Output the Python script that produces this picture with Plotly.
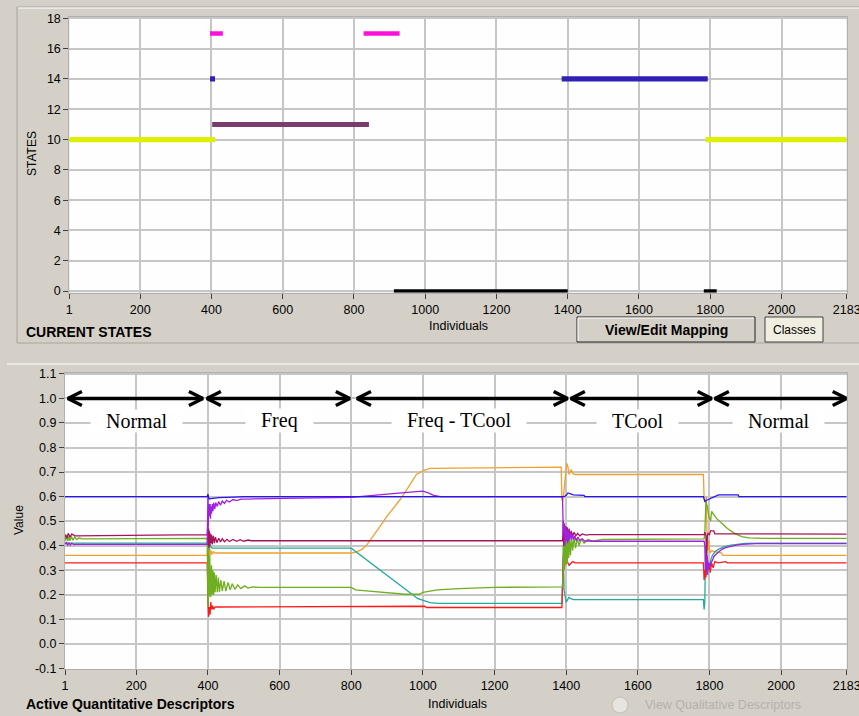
import plotly.graph_objects as go

W, H = 859, 716

# ---------------- data: top chart (current states) ----------------
x_ticks = [1, 200, 400, 600, 800, 1000, 1200, 1400, 1600, 1800, 2000, 2183]
state_ticks = [0, 2, 4, 6, 8, 10, 12, 14, 16, 18]

yellow_x = [1, 410, None, 1787, 2183]
yellow_y = [10, 10, None, 10, 10]
magenta_x = [396, 432, None, 827, 928]
magenta_y = [17, 17, None, 17, 17]
plum_x = [402, 842]
plum_y = [11, 11]
indigo_x = [396, 410, None, 1383, 1793]
indigo_y = [14, 14, None, 14, 14]
black_x = [912, 1400, None, 1782, 1818]
black_y = [0, 0, None, 0, 0]

# ---------------- data: bottom chart (descriptor values) ----------------
value_ticks = [-0.1, 0.0, 0.1, 0.2, 0.3, 0.4, 0.5, 0.6, 0.7, 0.8, 0.9, 1.0, 1.1]

phase_names = ["Normal", "Freq", "Freq - TCool", "TCool", "Normal"]
phase_bounds = [1, 400, 800, 1400, 1800, 2183]
arrow_start = [9, 397, 816, 1413, 1815]
arrow_end = [386, 796, 1404, 1806, 2183]
arrow_level = 1.0
label_level = 0.91

blue_x = [1, 398, 400, 403, 408, 430, 470, 500, 1395, 1400, 1405, 1420, 1450, 1452,
          1783, 1787, 1792, 1800, 1815, 1825, 1880, 1882, 2183]
blue_y = [0.60, 0.60, 0.61, 0.59, 0.592, 0.596, 0.598, 0.60, 0.60, 0.605, 0.615, 0.607, 0.605, 0.60,
          0.60, 0.58, 0.585, 0.59, 0.60, 0.607, 0.607, 0.60, 0.60]

purple_x = [1, 5, 8, 12, 16, 20, 25, 30, 398,
            400, 401, 402, 403, 404, 405, 406, 407, 408, 410, 412, 414, 416, 419, 422, 426, 430,
            435, 440, 446, 452, 460, 470, 480, 492, 505, 560, 700, 800,
            830, 860, 900, 940, 970, 1000, 1015, 1030, 1050, 1388,
            1390, 1392, 1394, 1396, 1398, 1400, 1402, 1404, 1406, 1408, 1411, 1414, 1417, 1420,
            1424, 1428, 1433, 1438, 1445, 1452, 1460, 1470, 1785,
            1787, 1789, 1791, 1793, 1795, 1797, 1799, 1801, 1804, 1808, 1812, 1818, 1825, 1835,
            1845, 1860, 1875, 1890, 1905, 1930, 2183]
purple_y = [0.405, 0.415, 0.40, 0.412, 0.402, 0.41, 0.404, 0.405, 0.405,
            0.60, 0.48, 0.57, 0.50, 0.56, 0.52, 0.57, 0.51, 0.56, 0.53, 0.57, 0.54, 0.575, 0.55, 0.575, 0.56, 0.58,
            0.565, 0.582, 0.572, 0.585, 0.578, 0.588, 0.584, 0.59, 0.59, 0.592, 0.595, 0.597,
            0.60, 0.605, 0.61, 0.615, 0.62, 0.622, 0.615, 0.605, 0.60, 0.60,
            0.58, 0.45, 0.49, 0.40, 0.48, 0.42, 0.47, 0.41, 0.46, 0.42, 0.455, 0.425, 0.45, 0.425,
            0.44, 0.42, 0.435, 0.42, 0.428, 0.418, 0.42, 0.418, 0.418,
            0.40, 0.30, 0.36, 0.28, 0.34, 0.30, 0.33, 0.31, 0.33, 0.34, 0.355, 0.365, 0.375, 0.385,
            0.392, 0.398, 0.402, 0.405, 0.407, 0.408, 0.408]

maroon_x = [1, 6, 10, 15, 20, 28, 398,
            400, 401, 402, 403, 404, 405, 406, 408, 410, 412, 415, 418, 421, 425, 430, 435, 440,
            446, 453, 460, 470, 480, 490, 500, 512, 520, 1390,
            1392, 1393, 1395, 1397, 1399, 1401, 1403, 1405, 1408, 1411, 1414, 1418, 1422, 1427,
            1432, 1438, 1445, 1455, 1465, 1785,
            1787, 1790, 1792, 1794, 1796, 1800, 1803, 1812, 1815, 2183]
maroon_y = [0.445, 0.43, 0.45, 0.435, 0.448, 0.44, 0.445,
            0.50, 0.40, 0.47, 0.39, 0.46, 0.40, 0.45, 0.41, 0.445, 0.405, 0.44, 0.41, 0.435, 0.412, 0.43, 0.415, 0.428,
            0.416, 0.426, 0.417, 0.425, 0.418, 0.424, 0.418, 0.423, 0.42, 0.42,
            0.50, 0.40, 0.49, 0.42, 0.48, 0.43, 0.475, 0.43, 0.47, 0.435, 0.46, 0.437, 0.455, 0.44,
            0.45, 0.44, 0.448, 0.443, 0.445, 0.445,
            0.455, 0.44, 0.34, 0.44, 0.45, 0.445, 0.46, 0.46, 0.448, 0.447]

green_x = [1, 3, 6, 9, 12, 15, 19, 23, 28, 34, 40, 48, 398,
           400, 401, 402, 403, 404, 405, 406, 407, 408, 410, 412, 414, 416, 418, 420, 423, 426,
           429, 432, 436, 440, 445, 450, 456, 462, 468, 475, 483, 492, 502, 512, 525, 540, 800,
           812, 850, 900, 950, 990, 1000, 1040, 1100, 1200, 1390,
           1392, 1393, 1395, 1397, 1399, 1401, 1403, 1405, 1407, 1409, 1412, 1415, 1418, 1422,
           1426, 1431, 1436, 1442, 1450, 1460, 1475, 1500, 1785,
           1787, 1790, 1794, 1798, 1803, 1806, 1810, 1820, 1835, 1850, 1870, 1890, 1910, 1950, 2183]
green_y = [0.44, 0.42, 0.445, 0.418, 0.44, 0.42, 0.437, 0.422, 0.435, 0.425, 0.432, 0.428, 0.43,
           0.15, 0.40, 0.19, 0.38, 0.20, 0.36, 0.20, 0.34, 0.19, 0.32, 0.20, 0.30, 0.20, 0.29, 0.21, 0.28, 0.21,
           0.27, 0.21, 0.26, 0.215, 0.255, 0.215, 0.25, 0.22, 0.245, 0.222, 0.24, 0.225, 0.236, 0.227, 0.232, 0.23, 0.23,
           0.22, 0.215, 0.207, 0.202, 0.202, 0.21, 0.22, 0.225, 0.23, 0.232,
           0.30, 0.45, 0.30, 0.44, 0.32, 0.45, 0.33, 0.44, 0.35, 0.44, 0.36, 0.435, 0.38, 0.435,
           0.39, 0.43, 0.40, 0.428, 0.41, 0.425, 0.418, 0.425, 0.428,
           0.45, 0.58, 0.56, 0.52, 0.50, 0.54, 0.53, 0.51, 0.49, 0.47, 0.45, 0.437, 0.432, 0.43, 0.43]

teal_x = [1, 398, 400, 402, 405, 408, 412, 800, 986, 1000, 1020, 1042, 1388,
          1390, 1392, 1394, 1397, 1400, 1404, 1408, 1412, 1420, 1783,
          1785, 1787, 1789, 1791, 1793, 1795, 1797, 1800, 1803, 1808, 1815, 1825, 1840, 1860,
          1880, 1900, 1950, 2183]
teal_y = [0.41, 0.41, 0.40, 0.38, 0.41, 0.395, 0.39, 0.39, 0.184, 0.178, 0.168, 0.165, 0.165,
          0.25, 0.40, 0.22, 0.20, 0.17, 0.18, 0.19, 0.185, 0.18, 0.18,
          0.14, 0.17, 0.40, 0.30, 0.36, 0.28, 0.33, 0.30, 0.34, 0.36, 0.375, 0.385, 0.395, 0.402,
          0.406, 0.409, 0.41, 0.41]

orange_x = [1, 398, 400, 401, 403, 405, 407, 409, 412, 416, 420, 800,
            815, 830, 842, 860, 880, 900, 935, 960, 982, 1000, 1010, 1020, 1386,
            1388, 1391, 1393, 1396, 1399, 1402, 1405, 1408, 1411, 1414, 1418, 1424, 1783,
            1785, 1789, 1791, 1793, 1795, 1798, 1801, 1806, 1815, 1832, 1838, 2183]
orange_y = [0.36, 0.36, 0.41, 0.34, 0.35, 0.39, 0.36, 0.38, 0.365, 0.375, 0.37, 0.37,
            0.375, 0.385, 0.40, 0.435, 0.478, 0.52, 0.585, 0.64, 0.69, 0.705, 0.71, 0.715, 0.72,
            0.60, 0.58, 0.62, 0.66, 0.70, 0.735, 0.72, 0.69, 0.70, 0.71, 0.695, 0.69, 0.69,
            0.59, 0.58, 0.60, 0.45, 0.38, 0.42, 0.37, 0.38, 0.375, 0.372, 0.36, 0.36]

red_x = [1, 398, 400, 402, 404, 406, 408, 410, 413, 416, 420, 800,
         810, 1005, 1010, 1388,
         1390, 1392, 1395, 1400, 1405, 1408, 1412, 1418, 1425, 1783,
         1785, 1788, 1790, 1793, 1796, 1799, 1802, 1806, 1810, 1815, 1825, 1845, 1850, 2183]
red_y = [0.33, 0.33, 0.17, 0.11, 0.15, 0.12, 0.17, 0.14, 0.155, 0.14, 0.15, 0.15,
         0.153, 0.153, 0.148, 0.148,
         0.25, 0.36, 0.33, 0.33, 0.33, 0.32, 0.325, 0.335, 0.33, 0.33,
         0.26, 0.30, 0.27, 0.36, 0.30, 0.32, 0.29, 0.33, 0.31, 0.335, 0.33, 0.335, 0.33, 0.33]

# ---------------- helpers for layout positions (pixels -> paper) ----------------
def px_x(px):
    return px / W


def px_y(py):
    return 1 - py / H


TOP_L, TOP_R, TOP_T, TOP_B = 69.3, 846.7, 16.7, 292.7
BOT_L, BOT_R, BOT_T, BOT_B = 65.0, 846.7, 372.7, 669.3
BOT_YR = [-0.104, 1.105]

fig = go.Figure()

state_lines = [
    (yellow_x, yellow_y, "#dcf000", 5.3),
    (plum_x, plum_y, "#7a3b6e", 5),
    (magenta_x, magenta_y, "#ff10d8", 4.7),
    (indigo_x, indigo_y, "#3220b4", 5.3),
    (black_x, black_y, "#000000", 3.4),
]
for xs, ys, col, wd in state_lines:
    fig.add_trace(go.Scatter(x=xs, y=ys, mode="lines", line=dict(color=col, width=wd),
                             xaxis="x", yaxis="y", hoverinfo="skip"))

value_lines = [
    (orange_x, orange_y, "#f0a030"),
    (teal_x, teal_y, "#22aa99"),
    (red_x, red_y, "#ff1a1a"),
    (green_x, green_y, "#6fae1e"),
    (maroon_x, maroon_y, "#a8145a"),
    (purple_x, purple_y, "#a020e0"),
    (blue_x, blue_y, "#2a14f5"),
]
for xs, ys, col in value_lines:
    fig.add_trace(go.Scatter(x=xs, y=ys, mode="lines", line=dict(color=col, width=1.3),
                             xaxis="x2", yaxis="y2", hoverinfo="skip"))

# double headed arrows for the phases
x_per_px = (x_ticks[-1] - x_ticks[0]) / (BOT_R - BOT_L)
y_per_px = (BOT_YR[1] - BOT_YR[0]) / (BOT_B - BOT_T)
head_dx = 14 * x_per_px
head_dy = 7 * y_per_px
ax_, ay_ = [], []
for s, e in zip(arrow_start, arrow_end):
    ax_ += [s, e, None,
            s + head_dx, s, s + head_dx, None,
            e - head_dx, e, e - head_dx, None]
    ay_ += [arrow_level, arrow_level, None,
            arrow_level + head_dy, arrow_level, arrow_level - head_dy, None,
            arrow_level + head_dy, arrow_level, arrow_level - head_dy, None]
fig.add_trace(go.Scatter(x=ax_, y=ay_, mode="lines", line=dict(color="black", width=3.4),
                         xaxis="x2", yaxis="y2", hoverinfo="skip"))

annotations = []
for i, name in enumerate(phase_names):
    mid = (phase_bounds[i] + phase_bounds[i + 1]) / 2
    annotations.append(dict(
        x=mid, y=label_level, xref="x2", yref="y2", showarrow=False,
        text="&nbsp;&nbsp;&nbsp;" + name + "&nbsp;&nbsp;&nbsp;",
        font=dict(family="Liberation Serif", size=20, color="black"),
        bgcolor="#ffffff", borderpad=0, xanchor="center", yanchor="middle"))

sans = "Liberation Sans"


def ptext(txt, x, y, size=12, color="black", bold=False, angle=0, xanchor="center"):
    return dict(text=("<b>%s</b>" % txt) if bold else txt, x=px_x(x), y=px_y(y),
                xref="paper", yref="paper", showarrow=False, textangle=angle,
                font=dict(family=sans, size=size, color=color),
                xanchor=xanchor, yanchor="middle")


annotations += [
    ptext("STATES", 32, 154, 12, angle=-90),
    ptext("CURRENT STATES", 24, 332, 14, bold=True, xanchor="left"),
    ptext("Individuals", 458, 326, 12.5),
    ptext("View/Edit Mapping", 666, 330, 14, bold=True),
    ptext("Classes", 794, 330, 12),
    ptext("Value", 19, 520, 12, angle=-90),
    ptext("Active Quantitative Descriptors", 24, 704, 14, bold=True, xanchor="left"),
    ptext("Individuals", 457, 704, 12.5),
    ptext("View Qualitative Descriptors", 643, 705, 12.5, color="#b4b0a8", xanchor="left"),
]


def pline(x0, y0, x1, y1, color, width=1):
    return dict(type="line", xref="paper", yref="paper", x0=px_x(x0), y0=px_y(y0),
                x1=px_x(x1), y1=px_y(y1), line=dict(color=color, width=width), layer="below")


def prect(x0, y0, x1, y1, fill, color, width=1):
    return dict(type="rect", xref="paper", yref="paper", x0=px_x(x0), y0=px_y(y0),
                x1=px_x(x1), y1=px_y(y1), fillcolor=fill, line=dict(color=color, width=width),
                layer="below")


shapes = [
    pline(17, 7, 17, 343, "#a8a49c"),
    pline(17, 7, 859, 7, "#a8a49c"),
    pline(18, 8, 859, 8, "#ffffff"),
    pline(17, 343, 859, 343, "#a8a49c"),
    pline(7, 364, 859, 364, "#ffffff"),
    prect(577, 317, 755, 342, "#d4d0c8", "#202020"),
    pline(578, 318, 754, 318, "#ffffff"),
    pline(578, 318, 578, 341, "#ffffff"),
    prect(765, 317, 823, 342, "#f0eee0", "#404040"),
    dict(type="circle", xref="paper", yref="paper", x0=px_x(612), x1=px_x(628),
         y0=px_y(713), y1=px_y(697), fillcolor="#e6e4de", line=dict(color="#c4c0b8", width=1),
         layer="below"),
]

axis_common = dict(showgrid=True, gridcolor="#c6c6c6", gridwidth=1.5, zeroline=False,
                   ticks="outside", ticklen=5, tickcolor="#404040", tickwidth=1,
                   showline=True, linecolor="#b0b0b0", linewidth=1, mirror=True,
                   automargin=False, ticklabeloverflow="allow",
                   tickfont=dict(family=sans, size=12.5, color="black"))

fig.update_layout(
    width=W, height=H, autosize=False, margin=dict(l=0, r=0, t=0, b=0, autoexpand=False),
    paper_bgcolor="#d4d0c8", plot_bgcolor="#fefefe", showlegend=False,
    xaxis=dict(domain=[px_x(TOP_L), px_x(TOP_R)], range=[x_ticks[0], x_ticks[-1]],
               tickvals=x_ticks, ticktext=[str(v) for v in x_ticks], anchor="y", **axis_common),
    yaxis=dict(domain=[px_y(TOP_B), px_y(TOP_T)], range=[-0.11, 18.11],
               tickvals=state_ticks, ticktext=[str(v) for v in state_ticks], anchor="x", **axis_common),
    xaxis2=dict(domain=[px_x(BOT_L), px_x(BOT_R)], range=[x_ticks[0], x_ticks[-1]],
                tickvals=x_ticks, ticktext=[str(v) for v in x_ticks], anchor="y2", **axis_common),
    yaxis2=dict(domain=[px_y(BOT_B), px_y(BOT_T)], range=BOT_YR,
                tickvals=value_ticks, ticktext=["%.1f" % v for v in value_ticks], anchor="x2",
                **axis_common),
    annotations=annotations, shapes=shapes,
)

fig.write_html("out.html", config={"displayModeBar": False, "responsive": False},
               post_script="document.documentElement.style.background='#d4d0c8';"
                           "document.body.style.margin='0px';document.body.style.overflow='hidden';")
